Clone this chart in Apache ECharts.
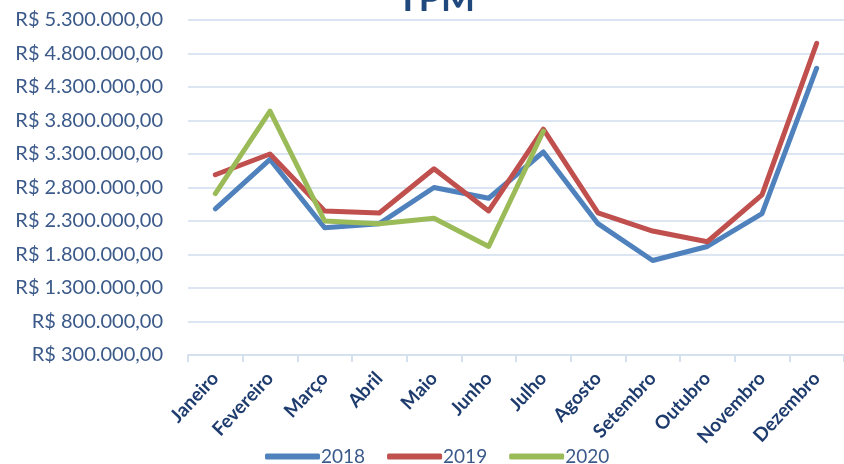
<!DOCTYPE html>
<html><head><meta charset="utf-8">
<script src="https://cdn.jsdelivr.net/npm/echarts@6/dist/echarts.min.js"></script>
<style>html,body{margin:0;padding:0;background:#fff}#c{width:844px;height:464px}</style>
</head><body><div id="c"></div>
<script>
const months = ['Janeiro','Fevereiro','Março','Abril','Maio','Junho','Julho','Agosto','Setembro','Outubro','Novembro','Dezembro'];
const s2018 = [2480000,3220000,2200000,2260000,2800000,2640000,3330000,2260000,1710000,1920000,2410000,4580000];
const s2019 = [2990000,3300000,2450000,2420000,3080000,2450000,3670000,2420000,2150000,1990000,2690000,4950000];
const s2020 = [2710000,3940000,2300000,2260000,2340000,1920000,3640000];
const seriesNames = ['2018','2019','2020'];
const colors = ['#4F81BD','#C0504D','#9BBB59'];

function brl(v){
  const s = Math.round(v).toString().replace(/\B(?=(\d{3})+(?!\d))/g,'.');
  return 'R$ ' + s + ',00';
}
const chart = echarts.init(document.getElementById('c'));
const data = [s2018, s2019, s2020];
chart.setOption({
  animation:false,
  title:{text:'TPM',left:431,textAlign:'center',top:-24,
    textStyle:{fontFamily:'Lato',fontWeight:'bold',fontSize:36,color:'#1F497D'}},
  color:colors,
  legend:{bottom:-7,left:260,itemWidth:55,itemHeight:6,itemGap:22,
    icon:'roundRect',
    textStyle:{fontFamily:'Lato',fontSize:19,color:'#3B5A8A',padding:[0,0,0,-4]},
    data:seriesNames},
  grid:{left:188,top:20,width:662,height:335},
  xAxis:{type:'category',data:months,boundaryGap:true,
    axisLine:{lineStyle:{color:'#D6E1EF',width:2}},
    axisTick:{show:true,length:7,lineStyle:{color:'#D6E1EF',width:2}},
    axisLabel:{rotate:47,interval:0,fontFamily:'Lato',fontWeight:'bold',fontSize:19,color:'#1F3C6E',margin:20}},
  yAxis:{type:'value',min:300000,max:5300000,interval:500000,
    axisLine:{show:false},axisTick:{show:false},
    splitLine:{lineStyle:{color:'#DCE6F2',width:2}},
    axisLabel:{formatter:brl,fontFamily:'Lato',fontSize:20,color:'#3B5A8A',margin:25}},
  series: data.map((d,i)=>({name:seriesNames[i],type:'line',data:d,symbol:'none',
    lineStyle:{width:5,color:colors[i],cap:'round',join:'round'}}))
});
</script></body></html>
